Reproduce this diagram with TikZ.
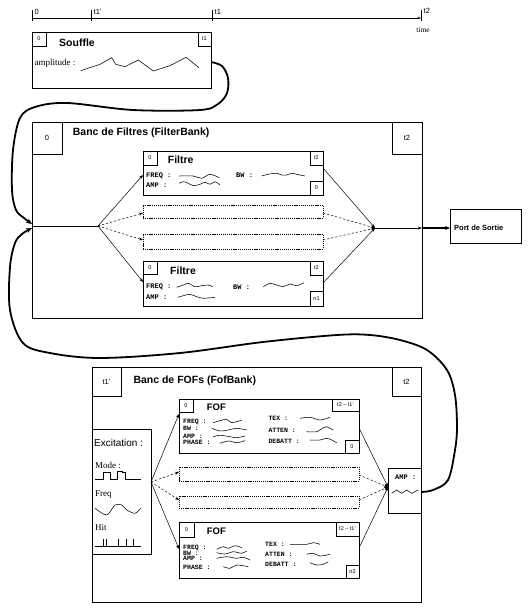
\documentclass[tikz,border=0pt]{standalone}
\usepackage{fontspec}
\setmainfont{Liberation Serif}
\setsansfont{Liberation Sans}
\setmonofont{Liberation Mono}
\usetikzlibrary{arrows.meta,calc}
\begin{document}
\begin{tikzpicture}[x=1pt,y=-1pt,
 box/.style={draw,line width=0.8pt,inner sep=0pt,outer sep=0pt,anchor=north west},
 dbox/.style={draw,line width=0.6pt,dash pattern=on 1.2pt off 0.9pt,inner sep=0pt,outer sep=0pt,anchor=north west},
 tag/.style={box,font=\sffamily\fontsize{5.5}{6}\selectfont},
 bigtag/.style={box,font=\sffamily\fontsize{7.5}{8}\selectfont},
 title/.style={anchor=west,inner sep=0pt,font=\sffamily\bfseries\fontsize{10.5}{12}\selectfont},
 lab/.style={anchor=west,inner sep=0pt,font=\ttfamily\bfseries\fontsize{7}{7}\selectfont},
 flab/.style={anchor=west,inner sep=0pt,font=\ttfamily\bfseries\fontsize{6.5}{6.5}\selectfont},
 slab/.style={anchor=west,inner sep=0pt,font=\fontsize{9}{10}\selectfont},
 tl/.style={anchor=west,inner sep=0pt,font=\sffamily\fontsize{7.5}{8}\selectfont},
 wave/.style={line width=0.55pt},
 conn/.style={line width=0.5pt,-{Stealth[length=4pt,width=3pt]}},
 dconn/.style={conn,dash pattern=on 2.2pt off 2pt},
 thickc/.style={line width=1.8pt,-{Stealth[length=6pt,width=5pt]}},
]
\useasboundingbox (0,0) rectangle (531,613);

% ---------- timeline ----------
\coordinate (tA) at (32,18);
\coordinate (tD) at (421,18);
\draw[line width=0.7pt,-{Stealth[length=3.5pt,width=2.5pt]}] (tA) -- (tD);
\foreach \x in {32,91,212,421} \draw[line width=0.7pt] (\x,10) -- (\x,21);
\node[tl] (tl0) at (34.5,12) {0};
\node[tl] (tl1p) at (93.5,12) {t1'};
\node[tl] (tl1) at (214.5,12) {t1};
\node[tl] (tl2) at (423.5,11) {t2};
\node[anchor=center,inner sep=0pt,font=\fontsize{7.5}{8}\selectfont] (ttime) at (423,30) {time};

% ---------- Souffle ----------
\node[box,minimum width=179,minimum height=56] (souffle) at (32,32) {};
\node[tag,minimum width=14,minimum height=14] (s0) at (32,32) {0};
\node[tag,minimum width=13,minimum height=14] (st1) at (198,32) {t1};
\node[title] (stitle) at (59,42.3) {Souffle};
\node[slab] (samp) at (34.5,63.3) {amplitude :};
\draw[wave] (80.7,70.7) -- (100,64.3) -- (111.7,57.7) -- (115.7,64.3) -- (125,66.7) -- (138.3,60) -- (153.3,71) -- (170,65.7) -- (186,57.3) -- (199,67.7);
\coordinate (sOut) at (211,62);

% ---------- FilterBank ----------
\node[box,minimum width=390,minimum height=196] (fb) at (32,122) {};
\node[bigtag,minimum width=30,minimum height=32] (fb0) at (32,122) {0};
\node[bigtag,minimum width=30,minimum height=32] (fbt2) at (392,122) {t2};
\node[title] (fbtitle) at (72.7,132.5) {Banc de Filtres (FilterBank)};

% Filtre 1
\node[box,minimum width=180,minimum height=44] (fA) at (143,151) {};
\node[tag,minimum width=14,minimum height=14] (fA0) at (143,151) {0};
\node[tag,minimum width=13,minimum height=14] (fAt2) at (310,151) {t2};
\node[tag,minimum width=13,minimum height=14] (fAn) at (310,181) {0};
\node[title] (fAtitle) at (167.7,160) {Filtre};
\node[lab] (fAfreq) at (146,175.5) {FREQ :};
\node[lab] (fAamp) at (146,185.3) {AMP :};
\node[lab] (fAbw) at (236,175.5) {BW :};
\draw[wave] plot[smooth] coordinates {(179.3,176) (193.3,176) (201.7,178.3) (210,174.3) (219.3,177.7)};
\draw[wave] plot[smooth] coordinates {(261.7,176) (268,174.3) (276.7,173.3) (281.7,175) (286.7,175) (291.7,173.3) (296.7,174.3) (305,176)};
\draw[wave] plot[smooth] coordinates {(179,183.3) (183.3,181.7) (188.3,183.3) (193.3,185.7) (200,184.3) (205,182.3) (210,184.3) (215,181.7) (220,185)};

% dashed boxes
\node[dbox,minimum width=180,minimum height=13] (d1) at (143,205) {};
\node[dbox,minimum width=180,minimum height=15] (d2) at (143,234) {};

% Filtre 2
\node[box,minimum width=180,minimum height=45] (fB) at (143,261) {};
\node[tag,minimum width=14,minimum height=13] (fB0) at (143,261) {0};
\node[tag,minimum width=13,minimum height=14] (fBt2) at (310,261) {t2};
\node[tag,minimum width=13,minimum height=15] (fBn) at (310,291) {n1};
\node[title] (fBtitle) at (170,271.2) {Filtre};
\node[lab] (fBfreq) at (146,287) {FREQ :};
\node[lab] (fBamp) at (146,296.8) {AMP :};
\node[lab] (fBbw) at (233,287) {BW :};
\draw[wave] plot[smooth] coordinates {(176.7,287.3) (183.3,285) (188.3,283.3) (195,286.7) (201.7,285.7) (208.3,285) (212.7,286.7)};
\draw[wave] plot[smooth] coordinates {(263.3,286.7) (270,283.3) (276.7,285) (283.3,286.7) (290,284) (296.7,285.7) (304,282.7)};
\draw[wave] plot[smooth] coordinates {(177.7,297.3) (183.3,295.7) (190,294.3) (196.7,296.7) (203.3,298.3) (215,297.3)};

% connectors inside FilterBank
\coordinate (fbIn) at (32,226);
\coordinate (split1) at (98,226);
\coordinate (fAin) at (143,175);
\coordinate (d1in) at (143,213);
\coordinate (d2in) at (143,240);
\coordinate (fBin) at (143,282);
\coordinate (fAout) at (323,168);
\coordinate (d1out) at (323,213);
\coordinate (d2out) at (323,240);
\coordinate (fBout) at (323,283);
\coordinate (merge1) at (375,228);
\coordinate (fbOut) at (422,228);
\draw[line width=0.5pt] (fbIn) -- (split1);
\draw[conn] (split1) -- (fAin);
\draw[dconn] (split1) -- (d1in);
\draw[dconn] (split1) -- (d2in);
\draw[conn] (split1) -- (fBin);
\draw[conn] (fAout) -- (merge1);
\draw[dconn] (d1out) -- (merge1);
\draw[dconn] (d2out) -- (merge1);
\draw[conn] (fBout) -- (merge1);
\draw[conn] (merge1) -- (fbOut);

% Port de Sortie
\node[box,minimum width=71,minimum height=34] (port) at (450,209) {};
\node[anchor=west,inner sep=0pt,font=\sffamily\bfseries\fontsize{7.5}{8}\selectfont] (porttxt) at (454,228) {Port de Sortie};
\draw[line width=1.3pt,-{Stealth[length=5pt,width=4pt]}] (fbOut) -- (port.west |- fbOut);

% ---------- FofBank ----------
\node[box,minimum width=329,minimum height=235] (fof) at (92,367) {};
\node[bigtag,minimum width=29,minimum height=29] (fof0) at (92,367) {t1'};
\node[bigtag,minimum width=29,minimum height=29] (foft2) at (392,367) {t2};
\node[title] (foftitle) at (133.3,380.5) {Banc de FOFs (FofBank)};

% Excitation
\node[box,minimum width=59,minimum height=125] (exc) at (92,429) {};
\node[anchor=west,inner sep=0pt,font=\sffamily\fontsize{10}{11}\selectfont] (exct) at (94,443) {Excitation :};
\node[slab] (mode) at (95,465) {Mode :};
\draw[wave] (95,479) -- (103,479) -- (103,472) -- (110,472) -- (110,479) -- (117,479) -- (117,471) -- (122,471) -- (122,472.5) -- (125,472.5) -- (125,479) -- (141,479);
\node[slab] (freq) at (95,494.5) {Freq};
\draw[wave] plot[smooth,tension=0.5] coordinates {(95,508.3) (106.7,515) (115,505) (121.7,505) (126.7,510) (135,513.3) (140.7,508.3)};
\node[slab] (hit) at (95,528) {Hit};
\draw[wave] (95,546) -- (141,546);
\foreach \x in {103.3,106.7,118.3,126.7,133.3} \draw[wave] (\x,538.5) -- (\x,546);

% FOF 1
\node[box,minimum width=180,minimum height=54] (gA) at (179,399) {};
\node[tag,minimum width=14,minimum height=13] (gA0) at (179,399) {0};
\node[tag,minimum width=27,minimum height=12] (gAt) at (332,399) {t2 -- t1'};
\node[tag,minimum width=14,minimum height=13] (gAn) at (345,440) {0};
\node[title,font=\sffamily\bfseries\fontsize{9.5}{11}\selectfont] (gAtitle) at (206.7,407.7) {FOF};
\node[flab] (gAfreq) at (183,422) {FREQ :};
\node[flab] (gAbw) at (183,428) {BW :};
\node[flab] (gAamp) at (183,436) {AMP :};
\node[flab] (gAph) at (183,442.5) {PHASE :};
\node[flab] (gAtex) at (268.3,418.8) {TEX :};
\node[flab] (gAat) at (268.3,430.8) {ATTEN :};
\node[flab] (gAdb) at (268.3,441) {DEBATT :};
\draw[wave] plot[smooth] coordinates {(213.3,422.7) (220,420.7) (226.7,419.3) (231.7,422.7) (241.7,420)};
\draw[wave] plot[smooth] coordinates {(211.7,428.3) (220,431) (228.3,430) (236.7,428.3) (246.7,430)};
\draw[wave] plot[smooth] coordinates {(213.3,436.7) (220,435.3) (230,436.7) (236.7,437.7) (245,436)};
\draw[wave] plot[smooth] coordinates {(220,443.3) (228.3,441) (236.7,442.7) (245,440.7)};
\draw[wave] plot[smooth] coordinates {(300,418.3) (310,417.3) (320,420) (330,417.3)};
\draw[wave] plot[smooth] coordinates {(306.7,431.7) (316.7,431.7) (323.3,427.7) (326.7,426.7) (333.3,430)};
\draw[wave] plot[smooth] coordinates {(310,440) (320,440) (326.7,438.3) (331.7,440) (336.7,442.7)};

% dashed
\node[dbox,minimum width=180,minimum height=14] (e1) at (179,467) {};
\node[dbox,minimum width=180,minimum height=12] (e2) at (179,496) {};

% FOF 2
\node[box,minimum width=180,minimum height=56] (gB) at (179,522) {};
\node[tag,minimum width=15,minimum height=15] (gB0) at (179,522) {0};
\node[tag,minimum width=23,minimum height=14] (gBt) at (336,522) {t2 -- t1'};
\node[tag,minimum width=13,minimum height=13] (gBn) at (346,565) {n2};
\node[title,font=\sffamily\bfseries\fontsize{9.5}{11}\selectfont] (gBtitle) at (206.7,531.3) {FOF};
\node[flab] (gBfreq) at (183,547.5) {FREQ :};
\node[flab] (gBbw) at (183,553) {BW :};
\node[flab] (gBamp) at (183,558.5) {AMP :};
\node[flab] (gBph) at (183,567.5) {PHASE :};
\node[flab] (gBtex) at (265,544.7) {TEX :};
\node[flab] (gBat) at (265,554.7) {ATTEN :};
\node[flab] (gBdb) at (265,564.5) {DEBATT :};
\draw[wave] plot[smooth] coordinates {(216.7,549.3) (223.3,546.7) (228.3,548.3) (235,545.7) (241.7,547.7)};
\draw[wave] plot[smooth] coordinates {(216.7,552.7) (225,554) (233.3,551.7) (241.7,553.3) (246.7,551)};
\draw[wave] plot[smooth] coordinates {(216.7,558.3) (226.7,556.7) (236.7,558.3) (243.3,557.3) (250,560)};
\draw[wave] plot[smooth] coordinates {(223.3,566.7) (230,568.3) (236.7,565) (248.3,566.7)};
\draw[wave] plot[smooth] coordinates {(290,544.3) (306.7,544.3) (313.3,542.7) (320,544.3)};
\draw[wave] plot[smooth] coordinates {(306.7,554.3) (313.3,553.3) (320,556) (330,554.3)};
\draw[wave] plot[smooth] coordinates {(310,562.7) (316.7,565) (323.3,564.3) (328.3,561.7)};

% AMP box
\node[box,minimum width=33,minimum height=45] (amp) at (388,468) {};
\node[lab] (ampt) at (395,477) {AMP :};
\draw[wave] (391.7,493.3) -- (396.7,490) -- (401.7,493.3) -- (406.7,490) -- (411.7,493.3) -- (418.3,490);

% connectors inside FofBank
\coordinate (excOut) at (151,482);
\coordinate (gAin) at (179,414);
\coordinate (e1in) at (179,472);
\coordinate (e2in) at (179,500);
\coordinate (gBin) at (179,549);
\coordinate (gAout) at (359,428);
\coordinate (e1out) at (359,475);
\coordinate (e2out) at (359,500);
\coordinate (gBout) at (359,548);
\coordinate (ampIn) at (388,487);
\coordinate (ampOut) at (421,492);
\draw[conn] (excOut) -- (gAin);
\draw[dconn] (excOut) -- (e1in);
\draw[dconn] (excOut) -- (e2in);
\draw[conn] (excOut) -- (gBin);
\draw[conn] (gAout) -- (ampIn);
\draw[dconn] (e1out) -- (ampIn);
\draw[dconn] (e2out) -- (ampIn);
\draw[conn] (gBout) -- (ampIn);

% ---------- thick feedback curves ----------
\coordinate (fbInA) at (32,224);
\coordinate (fbInB) at (32,228);
\draw[thickc] plot[smooth,tension=0.55] coordinates {(sOut) (222,66) (228,78) (227,93) (218,104) (200,110) (133,110) (67,103) (35,107) (20,118) (13,150) (12,190) (16,210) (24,218) (fbInA)};
\draw[thickc] plot[smooth,tension=0.55] coordinates {(ampOut) (433,490) (448,480) (455,450) (457,427) (455,395) (447,370) (427,350) (400,340) (370,335) (337,335) (263,342) (180,353) (100,358) (50,353) (23,343) (10,310) (10,267) (15,243) (22,234) (fbInB)};

\end{tikzpicture}
\end{document}
